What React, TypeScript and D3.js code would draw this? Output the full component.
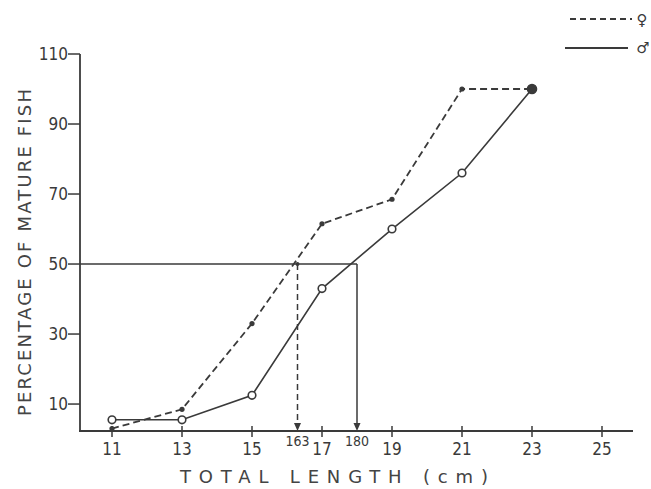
import { useEffect, useRef } from 'react';
import * as d3 from 'd3';

// total length (cm) and % mature
const lengths = [11, 13, 15, 17, 19, 21, 23];
const female = [3, 8.5, 33, 61.5, 68.5, 100, 100];
const male = [5.5, 5.5, 12.5, 43, 60, 76, 100];

const xTicks = [11, 13, 15, 17, 19, 21, 23, 25];
const yTicks = [10, 30, 50, 70, 90, 110];

// length at 50% maturity
const l50 = [
  { sex: 'female', length: 16.3, label: '163' },
  { sex: 'male', length: 18.0, label: '180' },
];

const W = 651;
const H = 489;
const ink = '#3a3a3a';
const narrow = '"Liberation Sans Narrow", "DejaVu Sans Condensed", "DejaVu Sans", sans-serif';
const wide = '"DejaVu Sans", "Open Sans", sans-serif';

export default function App() {
  const svgRef = useRef<SVGSVGElement>(null);

  useEffect(() => {
    if (!svgRef.current) return;
    const svg = d3.select(svgRef.current);
    svg.selectAll('*').remove();

    const x = d3.scaleLinear().domain([11, 25]).range([112, 602]);
    const y = d3.scaleLinear().domain([2.3, 110]).range([431, 54]);

    const axisX0 = 80;
    const axisX1 = 633;
    const baseY = y(2.3);

    // axes
    svg.append('line')
      .attr('x1', axisX0).attr('x2', axisX0)
      .attr('y1', y(110)).attr('y2', baseY)
      .attr('stroke', ink).attr('stroke-width', 1.8);
    svg.append('line')
      .attr('x1', axisX0 - 1).attr('x2', axisX1)
      .attr('y1', baseY).attr('y2', baseY)
      .attr('stroke', ink).attr('stroke-width', 1.8);

    // y ticks
    const yt = svg.append('g');
    yt.selectAll('line').data(yTicks).join('line')
      .attr('x1', axisX0 - 12).attr('x2', axisX0)
      .attr('y1', d => y(d)).attr('y2', d => y(d))
      .attr('stroke', ink).attr('stroke-width', 1.5);
    yt.selectAll('text').data(yTicks).join('text')
      .attr('x', axisX0 - 12).attr('y', d => y(d) + 6)
      .attr('text-anchor', 'end')
      .attr('font-family', narrow).attr('font-size', 17)
      .attr('fill', ink)
      .text(d => d);

    // x ticks
    const xt = svg.append('g');
    xt.selectAll('line').data(xTicks).join('line')
      .attr('x1', d => x(d)).attr('x2', d => x(d))
      .attr('y1', baseY - 5).attr('y2', baseY + 6)
      .attr('stroke', ink).attr('stroke-width', 1.5);
    xt.selectAll('text').data(xTicks).join('text')
      .attr('x', d => x(d)).attr('y', baseY + 24)
      .attr('text-anchor', 'middle')
      .attr('font-family', narrow).attr('font-size', 17)
      .attr('fill', ink)
      .text(d => d);

    // 50% reference lines
    const male50 = l50.find(d => d.sex === 'male')!;
    const fem50 = l50.find(d => d.sex === 'female')!;
    svg.append('line')
      .attr('x1', axisX0).attr('x2', x(male50.length))
      .attr('y1', y(50)).attr('y2', y(50))
      .attr('stroke', ink).attr('stroke-width', 1.5);

    l50.forEach(d => {
      const cx = x(d.length);
      svg.append('line')
        .attr('x1', cx).attr('x2', cx)
        .attr('y1', y(50)).attr('y2', baseY - 6)
        .attr('stroke', ink).attr('stroke-width', 1.5)
        .attr('stroke-dasharray', d.sex === 'female' ? '6,4' : null);
      svg.append('path')
        .attr('d', `M${cx - 3.5},${baseY - 8}L${cx + 3.5},${baseY - 8}L${cx},${baseY}Z`)
        .attr('fill', ink);
      svg.append('text')
        .attr('x', cx).attr('y', baseY + 15)
        .attr('text-anchor', 'middle')
        .attr('font-family', narrow).attr('font-size', 14)
        .attr('fill', ink)
        .text(d.label);
    });
    svg.append('circle')
      .attr('cx', x(fem50.length)).attr('cy', y(50)).attr('r', 2)
      .attr('fill', ink);

    // series
    const line = d3.line<number>()
      .x((_, i) => x(lengths[i]))
      .y(d => y(d));

    svg.append('path')
      .datum(female)
      .attr('d', line)
      .attr('fill', 'none')
      .attr('stroke', ink).attr('stroke-width', 1.8)
      .attr('stroke-dasharray', '7,4');

    svg.append('path')
      .datum(male)
      .attr('d', line)
      .attr('fill', 'none')
      .attr('stroke', ink).attr('stroke-width', 1.6);

    svg.append('g').selectAll('circle').data(female).join('circle')
      .attr('cx', (_, i) => x(lengths[i])).attr('cy', d => y(d))
      .attr('r', 2.6).attr('fill', ink);

    svg.append('g').selectAll('circle').data(male).join('circle')
      .attr('cx', (_, i) => x(lengths[i])).attr('cy', d => y(d))
      .attr('r', (_, i) => (i === male.length - 1 ? 4.5 : 3.8))
      .attr('fill', (_, i) => (i === male.length - 1 ? ink : '#fff'))
      .attr('stroke', ink).attr('stroke-width', 1.6);

    // axis titles
    svg.append('text')
      .attr('transform', `translate(31,${(y(110) + baseY) / 2 + 10}) rotate(-90)`)
      .attr('text-anchor', 'middle')
      .attr('font-family', wide).attr('font-size', 18)
      .attr('textLength', 327).attr('lengthAdjust', 'spacing')
      .attr('fill', '#444')
      .text('PERCENTAGE OF MATURE FISH');

    svg.append('text')
      .attr('x', 334).attr('y', 483)
      .attr('text-anchor', 'middle')
      .attr('font-family', wide).attr('font-size', 18)
      .attr('textLength', 308).attr('lengthAdjust', 'spacing')
      .attr('fill', '#444')
      .text('TOTAL LENGTH (cm)');

    // legend
    const lg = svg.append('g');
    lg.append('line')
      .attr('x1', 570).attr('x2', 632).attr('y1', 19).attr('y2', 19)
      .attr('stroke', ink).attr('stroke-width', 2).attr('stroke-dasharray', '6,4');
    lg.append('text')
      .attr('x', 642).attr('y', 25).attr('text-anchor', 'middle')
      .attr('font-family', wide).attr('font-size', 15).attr('fill', ink)
      .text('♀');
    lg.append('line')
      .attr('x1', 565).attr('x2', 628).attr('y1', 48).attr('y2', 48)
      .attr('stroke', ink).attr('stroke-width', 2);
    lg.append('text')
      .attr('x', 643).attr('y', 53).attr('text-anchor', 'middle')
      .attr('font-family', wide).attr('font-size', 15).attr('fill', ink)
      .text('♂');
  }, []);

  return (
    <svg
      ref={svgRef}
      width={W}
      height={H}
      viewBox={`0 0 ${W} ${H}`}
      style={{ position: 'fixed', left: 0, top: 0, background: '#fff' }}
    />
  );
}
